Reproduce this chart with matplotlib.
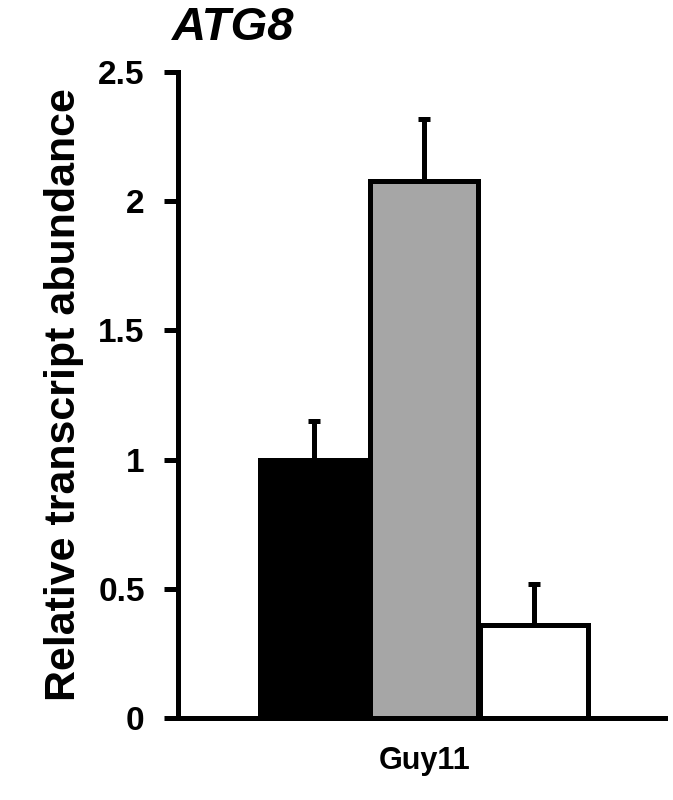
import matplotlib.pyplot as plt

plt.rcParams['font.family'] = ['Liberation Sans', 'DejaVu Sans']

groups = ['Guy11']
values = [1.0, 2.08, 0.36]
errors = [0.15, 0.24, 0.16]
colors = ['black', '#a6a6a6', 'white']
yticks = [0, 0.5, 1, 1.5, 2, 2.5]
ytick_labels = ['0', '0.5', '1', '1.5', '2', '2.5']

fig = plt.figure(figsize=(6.73, 8), dpi=100)
ax = fig.add_axes([0.2645, 0.1025, 0.7235, 0.8075])

pos = [0, 1, 2]
ax.bar(pos, values, width=0.98, color=colors, edgecolor='black', linewidth=3.6, zorder=2)
ax.errorbar(pos, values, yerr=[[0, 0, 0], errors], fmt='none', ecolor='black',
            elinewidth=3.6, capsize=4, capthick=3.6, zorder=1)

ax.set_xlim(-1.24, 3.19)
ax.set_ylim(0, 2.5)
ax.set_yticks(yticks)
ax.set_yticklabels(ytick_labels, fontsize=24, fontweight='bold')
ax.set_xticks([1])
ax.set_xticklabels(groups, fontsize=22, fontweight='bold')
ax.tick_params(axis='x', length=0, pad=20)
ax.tick_params(axis='y', direction='out', length=10, width=3.6, pad=14)
for s in ['top', 'right']:
    ax.spines[s].set_visible(False)
for s in ['left', 'bottom']:
    ax.spines[s].set_linewidth(3.6)
ax.set_ylabel('Relative transcript abundance', fontsize=31, fontweight='bold', labelpad=10)
fig.text(0.255, 0.965, 'ATG8', fontsize=34, fontweight='bold', style='italic', va='center')

fig.savefig('out.png', dpi=100)
